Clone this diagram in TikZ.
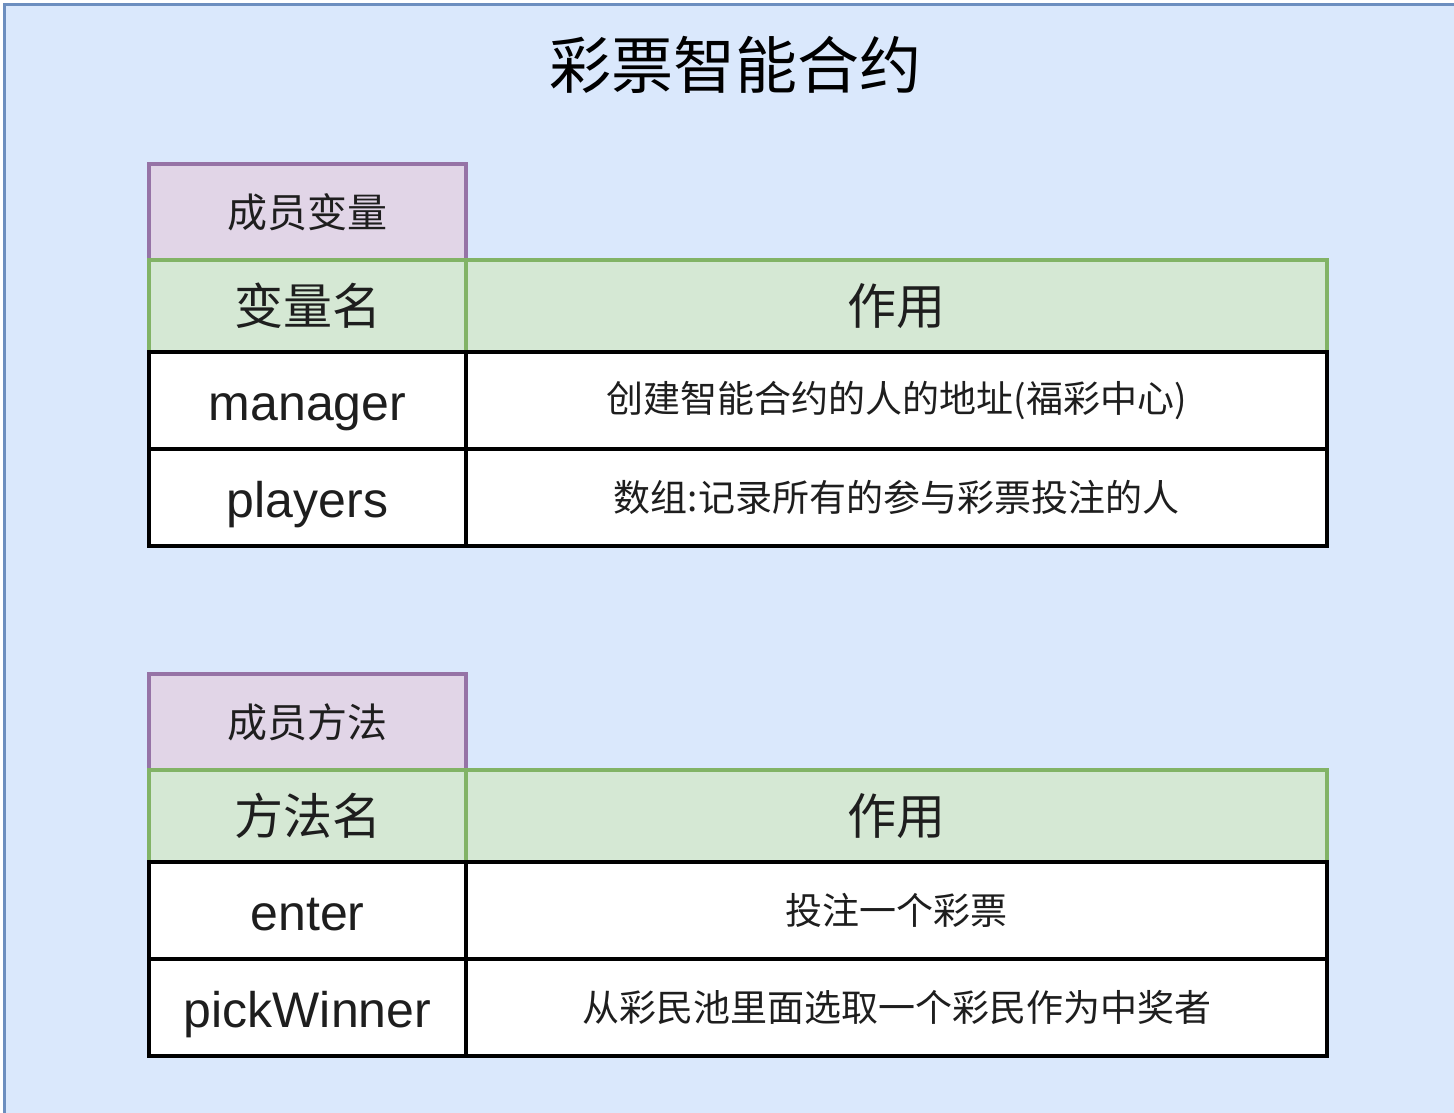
\documentclass[tikz,border=0pt]{standalone}
\usepackage{fontspec}
\setmainfont{Liberation Sans}
\newfontfamily\cjk{Noto Sans CJK SC}
\definecolor{bgblue}{HTML}{DAE8FC}
\definecolor{bgline}{HTML}{6C8EBF}
\definecolor{purfill}{HTML}{E1D5E7}
\definecolor{purline}{HTML}{9673A6}
\definecolor{grnfill}{HTML}{D5E8D4}
\definecolor{grnline}{HTML}{82B366}
\definecolor{txt}{HTML}{1E1E1E}

\begin{document}
\begin{tikzpicture}[x=1pt, y=-1pt]
		\tikzstyle{cell}=[rectangle, inner sep=0pt, outer sep=0pt, line width=4pt, anchor=north west, text=txt]
		\tikzstyle{grouphead}=[cell, draw=purline, fill=purfill, minimum width=317pt, minimum height=96pt, font=\cjk\fontsize{40}{48}\selectfont]
		\tikzstyle{colhead}=[cell, draw=grnline, fill=grnfill, minimum height=92pt, font=\cjk\fontsize{49}{58}\selectfont]
		\tikzstyle{keycell}=[cell, draw=black, fill=white, minimum width=317pt, minimum height=97pt, text height=40pt, text depth=0pt, font=\fontsize{50}{60}\selectfont]
		\tikzstyle{infocell}=[cell, draw=black, fill=white, minimum width=861pt, minimum height=97pt, font=\cjk\fontsize{37}{44}\selectfont]
		\useasboundingbox (0,0) rectangle (1454,1112);
		\draw[bgline, fill=bgblue, line width=3pt] (4,4) rectangle (1480,1140);
		
		\node (title) at (735,65) {\cjk\fontsize{62}{72}\selectfont 彩票智能合约};
		
		% member variables
		\node[grouphead]                  (vars)    at (149,164)             {成员变量};
		\node[colhead, minimum width=317pt] (varname) at (vars.south west)     {变量名};
		\node[colhead, minimum width=861pt] (varrole) at (varname.north east)  {作用};
		\node[keycell]                    (manager) at (varname.south west)  {manager};
		\node[infocell]                   (managerinfo) at (manager.north east) {创建智能合约的人的地址(福彩中心)};
		\node[keycell]                    (players) at (manager.south west)  {players};
		\node[infocell]                   (playersinfo) at (players.north east) {数组:记录所有的参与彩票投注的人};
		
		% member methods
		\node[grouphead]                  (meths)   at (149,674)             {成员方法};
		\node[colhead, minimum width=317pt] (methname) at (meths.south west)   {方法名};
		\node[colhead, minimum width=861pt] (methrole) at (methname.north east) {作用};
		\node[keycell]                    (enter)   at (methname.south west) {enter};
		\node[infocell]                   (enterinfo) at (enter.north east)  {投注一个彩票};
		\node[keycell]                    (pick)    at (enter.south west)    {pickWinner};
		\node[infocell]                   (pickinfo) at (pick.north east)    {从彩民池里面选取一个彩民作为中奖者};
		
		\end{tikzpicture}
\end{document}
